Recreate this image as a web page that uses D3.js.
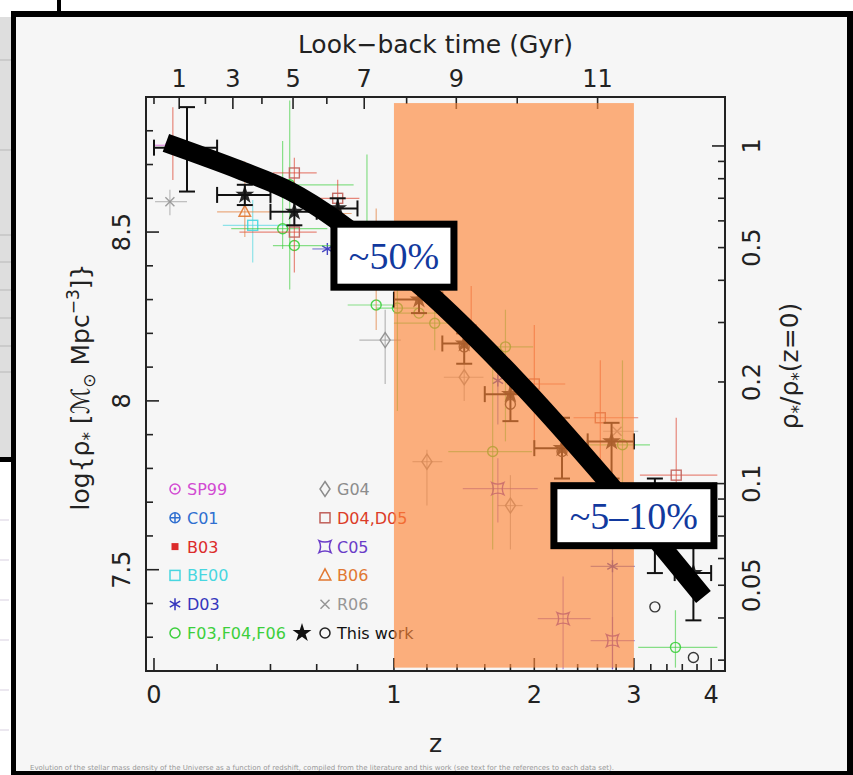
<!DOCTYPE html>
<meta charset="utf-8">
<title>Stellar mass density vs redshift</title>
<style>
body { margin: 0; background: #fff; }
svg { display: block; }
text { font-family: "DejaVu Sans", sans-serif; }
</style>
<body>
<script src="https://d3js.org/d3.v7.min.js"></script>
<script>

// rows are [z, zlo, zhi, logRho, logRhoLo, logRhoHi], null = no bar
var sp99 = [[0.05, 0.00, 0.08, 8.757, null, null]];
var c01  = [[0.15, null, null, 8.725, null, null]];
var b03  = [[0.22, null, null, 8.70, null, null]];
var be00 = [[0.33, 0.22, 0.47, 8.52, 8.41, 8.595]];
var d03  = [[0.65, 0.58, 0.71, 8.45, null, null],
            [1.70, null, null, 8.06, 7.93, 8.12],
            [2.76, 2.53, 3.01, 7.51, 7.205, 7.71]];
var f03  = [[0.45, 0.25, 0.65, 8.51, 8.45, 8.77],
            [0.48, 0.41, 0.78, 8.64, 8.33, 8.89],
            [0.50, 0.41, 0.68, 8.46, null, null],
            [0.85, null, null, 8.45, 8.40, 8.73],
            [0.90, 0.75, 1.02, 8.284, null, null],
            [1.02, 0.90, 1.15, 8.275, 7.97, 8.33],
            [1.15, 1.00, 1.30, 8.26, null, null],
            [1.25, 1.00, 1.40, 8.23, 8.15, 8.30],
            [1.76, 1.51, 1.99, 8.16, 7.88, 8.27],
            [1.66, 1.34, 1.98, 7.85, 7.56, 8.10],
            [2.87, 2.46, 3.19, 7.87, 7.70, 8.12],
            [3.51, 3.05, 4.09, 7.27, 7.21, 7.38]];
var g04  = [[0.95, 0.81, 1.04, 8.18, 8.05, 8.27],
            [1.45, 1.31, 1.59, 8.07, 8.00, 8.13],
            [1.20, 1.11, 1.30, 7.82, 7.69, 7.855],
            [1.80, 1.70, 1.90, 7.69, 7.56, 7.78]];
var d04  = [[0.056, null, null, 8.755, 8.654, 8.87],
            [0.50, 0.41, 0.60, 8.675, 8.63, 8.72],
            [0.50, 0.28, 0.60, 8.50, 8.38, 8.54],
            [0.70, 0.60, 0.81, 8.60, 8.545, 8.655],
            [1.50, null, null, 8.21, 8.18, 8.34],
            [2.00, 1.77, 2.28, 8.05, 7.875, 8.225],
            [2.63, 2.36, 3.05, 7.95, 7.77, 8.12],
            [3.52, 3.07, 4.09, 7.78, 7.59, 7.95]];
var c05  = [[1.70, 1.44, 2.03, 7.74, 7.64, 7.83],
            [2.26, 2.03, 2.53, 7.355, 7.205, 7.48],
            [2.76, 2.53, 3.01, 7.29, 7.205, 7.36]];
var b06  = [[0.30, 0.20, 0.40, 8.56, 8.485, 8.71],
            [0.70, 0.61, 0.77, 8.555, null, null],
            [0.90, null, null, 8.42, 8.21, 8.57]];
var r06  = [[0.047, 0.003, 0.10, 8.59, 8.55, 8.625],
            [2.81, 2.66, 3.05, 7.91, null, null]];
var twStars = [[0.10, 0.0, 0.2, 8.75, 8.62, 8.87],
               [0.30, 0.2, 0.4, 8.61, 8.58, 8.64],
               [0.50, 0.4, 0.6, 8.56, 8.52, 8.60],
               [0.70, 0.6, 0.8, 8.57, 8.54, 8.60],
               [0.90, 0.8, 1.0, 8.45, 8.41, 8.49],
               [1.15, 1.0, 1.3, 8.30, 8.26, 8.34],
               [1.45, 1.3, 1.6, 8.17, 8.11, 8.20],
               [1.80, 1.6, 2.0, 8.02, 7.94, 8.08],
               [2.25, 2.0, 2.5, 7.86, 7.77, 7.95],
               [2.75, 2.5, 3.0, 7.88, 7.77, 7.935],
               [3.25, 3.0, 3.5, 7.62, 7.49, 7.77],
               [3.75, 3.5, 4.0, 7.49, 7.35, 7.58]];
var twCircles = [[1.45, null, null, 8.16, null, null],
                 [1.80, null, null, 7.99, null, null],
                 [2.25, null, null, 7.85, null, null],
                 [3.25, null, null, 7.39, null, null],
                 [3.75, null, null, 7.24, null, null]];

// thick black curve
var fitZ      = [0.035, 0.28, 0.48, 0.70, 1.19, 1.85, 2.69, 3.89];
var fitLogRho = [8.764, 8.684, 8.622, 8.533, 8.328, 8.062, 7.766, 7.419];

// shaded redshift band and the two call-outs
var bandZ = [1, 3], bandLogRho = [7.21, 8.882];
var calloutText = ["~50%", "~5\u201310%"];
var calloutZ = [1, 3], calloutLogRho = [8.43, 7.66];

// ticks
var zTicks = [0, 1, 2, 3, 4];
var gyrTicks = [1, 3, 5, 7, 9, 11];
var logTicks = [7.5, 8, 8.5];
var ratioTicks = [1, 0.5, 0.2, 0.1, 0.05];
var LOG_RHO0 = 8.755;   // log rho at z=0 used for right axis

var series = [
  {label: "SP99",        data: sp99, type: "circdot",  color: "#d24bd2", col: 0, row: 0},
  {label: "C01",         data: c01,  type: "circplus", color: "#2f6fd0", col: 0, row: 1},
  {label: "B03",         data: b03,  type: "fsquare",  color: "#dc2b2b", col: 0, row: 2},
  {label: "BE00",        data: be00, type: "square",   color: "#48d6e0", col: 0, row: 3},
  {label: "D03",         data: d03,  type: "asterisk", color: "#3535bd", col: 0, row: 4},
  {label: "F03,F04,F06", data: f03,  type: "circle",   color: "#3ccf3c", col: 0, row: 5},
  {label: "G04",         data: g04,  type: "diamond",  color: "#8c8c8c", col: 1, row: 0},
  {label: "D04,D05",     data: d04,  type: "square",   color: "#dc3c28", mcolor: "#c0605a", col: 1, row: 1},
  {label: "C05",         data: c05,  type: "concave",  color: "#6a3cc8", col: 1, row: 2},
  {label: "B06",         data: b06,  type: "triangle", color: "#e17832", col: 1, row: 3},
  {label: "R06",         data: r06,  type: "times",    color: "#969696", col: 1, row: 4}
];

var W = 853, H = 775;
var svg = d3.select("body").append("svg").attr("width", W).attr("height", H);

// scales: x is log(1+z), left y is log rho, right y is rho/rho(0)
var x = d3.scaleLog().domain([0.9772, 5.204]).range([146, 725]);
function X(z) { return x(1 + z); }
var y = d3.scaleLinear().domain([7.2, 8.9]).range([671, 97]);
var yR = d3.scaleLog()
    .domain([Math.pow(10, 7.2 - LOG_RHO0), Math.pow(10, 8.9 - LOG_RHO0)])
    .range([671, 97]);

// look-back time (Gyr), H0=70, Om=0.3, OL=0.7
function lookback(z) {
  var n = 200, h = z / n, s = 0;
  for (var i = 0; i <= n; i++) {
    var zz = i * h, f = 1 / ((1 + zz) * Math.sqrt(0.3 * Math.pow(1 + zz, 3) + 0.7));
    s += (i === 0 || i === n ? 1 : (i % 2 ? 4 : 2)) * f;
  }
  return 977.8 / 70 * s * h / 3;
}
function zAt(t) {
  var lo = 0, hi = 20;
  for (var k = 0; k < 60; k++) {
    var mid = (lo + hi) / 2;
    if (lookback(mid) < t) lo = mid; else hi = mid;
  }
  return (lo + hi) / 2;
}

// ---- background: slide and bits of the slides behind it
svg.append("rect").attr("width", W).attr("height", H).attr("fill", "#fff");
svg.append("rect").attr("x", 0).attr("y", 17).attr("width", 11).attr("height", 440).attr("fill", "#dedede");
[60, 150, 235, 262, 290, 318, 346, 372].forEach(function(yy) {
  svg.append("line").attr("x1", 0).attr("x2", 11).attr("y1", yy).attr("y2", yy)
     .attr("stroke", "#b8b8b8").attr("stroke-width", 1);
});
[520, 560, 600, 640, 690, 730].forEach(function(yy) {
  svg.append("line").attr("x1", 0).attr("x2", 9).attr("y1", yy).attr("y2", yy)
     .attr("stroke", "#d8d0e0").attr("stroke-width", 1);
});
svg.append("rect").attr("x", 16).attr("y", 17).attr("width", 831).attr("height", 754).attr("fill", "#f6f6f6");
svg.append("text").attr("x", 30).attr("y", 770).attr("font-size", 7).attr("fill", "#999")
   .text("Evolution of the stellar mass density of the Universe as a function of redshift, compiled from the literature and this work (see text for the references to each data set).");
svg.append("rect").attr("x", 11).attr("y", 11).attr("width", 842).attr("height", 6).attr("fill", "#000");
svg.append("rect").attr("x", 11).attr("y", 11).attr("width", 5).attr("height", 764).attr("fill", "#000");
svg.append("rect").attr("x", 847).attr("y", 11).attr("width", 6).attr("height", 764).attr("fill", "#000");
svg.append("rect").attr("x", 11).attr("y", 771).attr("width", 842).attr("height", 4).attr("fill", "#000");
svg.append("rect").attr("x", 57).attr("y", 0).attr("width", 4).attr("height", 12).attr("fill", "#000");
svg.append("rect").attr("x", 0).attr("y", 457).attr("width", 16).attr("height", 5).attr("fill", "#000");

// ---- frame and ticks
var axisCol = "#222";
var frame = svg.append("g");
frame.append("rect").attr("x", 146).attr("y", 97).attr("width", 579).attr("height", 574)
    .attr("fill", "none").attr("stroke", axisCol).attr("stroke-width", 2);

// bottom: z
var zMinor = d3.range(0, 4.01, 0.2).map(function(d) { return +d.toFixed(1); });
frame.selectAll(".zt").data(zMinor).enter().append("line")
    .attr("x1", function(d) { return X(d); }).attr("x2", function(d) { return X(d); })
    .attr("y1", 671).attr("y2", function(d) { return Number.isInteger(d) ? 658 : 664; })
    .attr("stroke", axisCol).attr("stroke-width", 1.6);
frame.selectAll(".zl").data(zTicks).enter().append("text")
    .attr("x", function(d) { return X(d); }).attr("y", 703)
    .attr("text-anchor", "middle").attr("font-size", 24).attr("fill", axisCol)
    .text(function(d) { return d; });
svg.append("text").attr("x", 435.5).attr("y", 752).attr("text-anchor", "middle")
    .attr("font-size", 25).attr("fill", axisCol).text("z");

// top: look-back time
var gyrAll = d3.range(0, 12);
frame.selectAll(".tt").data(gyrAll).enter().append("line")
    .attr("x1", function(d) { return X(zAt(d)); }).attr("x2", function(d) { return X(zAt(d)); })
    .attr("y1", 97).attr("y2", function(d) { return d % 2 ? 109 : 104; })
    .attr("stroke", axisCol).attr("stroke-width", 1.6);
frame.selectAll(".tl").data(gyrTicks).enter().append("text")
    .attr("x", function(d) { return X(zAt(d)); }).attr("y", 87)
    .attr("text-anchor", "middle").attr("font-size", 24).attr("fill", axisCol)
    .text(function(d) { return d; });
svg.append("text").attr("x", 435.5).attr("y", 53).attr("text-anchor", "middle")
    .attr("font-size", 25).attr("fill", axisCol).text("Look\u2212back time (Gyr)");

// left: log rho
var logMinor = d3.range(7.3, 8.85, 0.1).map(function(d) { return +d.toFixed(1); });
frame.selectAll(".lt").data(logMinor).enter().append("line")
    .attr("x1", 146).attr("x2", function(d) { return (Math.round(d * 10) % 5 === 0) ? 159 : 153; })
    .attr("y1", function(d) { return y(d); }).attr("y2", function(d) { return y(d); })
    .attr("stroke", axisCol).attr("stroke-width", 1.6);
frame.selectAll(".ll").data(logTicks).enter().append("text")
    .attr("transform", function(d) { return "translate(130," + y(d) + ") rotate(-90)"; })
    .attr("text-anchor", "middle").attr("font-size", 24).attr("fill", axisCol)
    .text(function(d) { return d; });
var yl = svg.append("text").attr("transform", "translate(89,387) rotate(-90)")
    .attr("text-anchor", "middle").attr("font-size", 25).attr("fill", axisCol);
yl.append("tspan").text("log{\u03c1");
yl.append("tspan").attr("dy", 6).attr("font-size", 17).text("*");
yl.append("tspan").attr("dy", -6).text(" [\u2133");
yl.append("tspan").attr("dy", 6).attr("font-size", 17).text("\u2299");
yl.append("tspan").attr("dy", -6).text(" Mpc");
yl.append("tspan").attr("dy", -10).attr("font-size", 17).text("\u22123");
yl.append("tspan").attr("dy", 10).text("]}");

// right: rho / rho(z=0)
var ratioMinor = d3.range(3, 10).map(function(d) { return d / 100; })
    .concat(d3.range(1, 10).map(function(d) { return d / 10; })).concat([1]);
frame.selectAll(".rt").data(ratioMinor).enter().append("line")
    .attr("x1", 725)
    .attr("x2", function(d) { return (d === 1 || d === 0.1) ? 712 : 718; })
    .attr("y1", function(d) { return yR(d); }).attr("y2", function(d) { return yR(d); })
    .attr("stroke", axisCol).attr("stroke-width", 1.6);
frame.selectAll(".rl").data(ratioTicks).enter().append("text")
    .attr("transform", function(d) { return "translate(760," + yR(d) + ") rotate(-90)"; })
    .attr("text-anchor", "middle").attr("font-size", 24).attr("fill", axisCol)
    .text(function(d) { return d; });
var yr = svg.append("text").attr("transform", "translate(798,366) rotate(-90)")
    .attr("text-anchor", "middle").attr("font-size", 25).attr("fill", axisCol);
yr.append("tspan").text("\u03c1");
yr.append("tspan").attr("dy", 6).attr("font-size", 17).text("*");
yr.append("tspan").attr("dy", -6).text("/\u03c1");
yr.append("tspan").attr("dy", 6).attr("font-size", 17).text("*");
yr.append("tspan").attr("dy", -6).text("(z=0)");

// ---- markers
function marker(g, type, color, sw) {
  sw = sw || 1.4;
  if (type === "circle" || type === "circdot" || type === "circplus") {
    g.append("circle").attr("r", 5).attr("fill", "none").attr("stroke", color).attr("stroke-width", sw);
    if (type === "circdot") g.append("circle").attr("r", 1.4).attr("fill", color);
    if (type === "circplus") g.append("path").attr("d", "M-5,0H5M0,-5V5").attr("stroke", color).attr("stroke-width", sw);
  } else if (type === "fsquare") {
    g.append("rect").attr("x", -3.5).attr("y", -3.5).attr("width", 7).attr("height", 7).attr("fill", color);
  } else if (type === "square") {
    g.append("rect").attr("x", -5).attr("y", -5).attr("width", 10).attr("height", 10)
      .attr("fill", "none").attr("stroke", color).attr("stroke-width", sw);
  } else if (type === "asterisk") {
    g.append("path").attr("d", "M0,-6V6M-5.2,-3L5.2,3M-5.2,3L5.2,-3").attr("stroke", color).attr("stroke-width", sw);
  } else if (type === "diamond") {
    g.append("path").attr("d", "M0,-7.5L5,0L0,7.5L-5,0Z").attr("fill", "none").attr("stroke", color).attr("stroke-width", sw);
  } else if (type === "concave") {
    g.append("path").attr("d", "M-6,-6Q0,-3 6,-6Q3,0 6,6Q0,3 -6,6Q-3,0 -6,-6Z")
      .attr("fill", "none").attr("stroke", color).attr("stroke-width", sw);
  } else if (type === "triangle") {
    g.append("path").attr("d", "M0,-6.5L5.8,4.5L-5.8,4.5Z").attr("fill", "none").attr("stroke", color).attr("stroke-width", sw);
  } else if (type === "times") {
    g.append("path").attr("d", "M-4.5,-4.5L4.5,4.5M-4.5,4.5L4.5,-4.5").attr("stroke", color).attr("stroke-width", sw);
  } else if (type === "star") {
    g.append("path").attr("d", d3.symbol().type(d3.symbolStar).size(110)()).attr("fill", color);
  }
}

// ---- data: error bars then markers
var dataG = svg.append("g");
function drawSeries(rows, type, color, mcolor, opts) {
  var g = dataG.append("g");
  var w = opts.width || 1.2, op = opts.opacity || 0.6, cap = opts.cap || 0;
  var hrows = rows.filter(function(d) { return d[1] != null; });
  var vrows = rows.filter(function(d) { return d[4] != null; });
  g.selectAll(".h").data(hrows).enter().append("line")
      .attr("x1", function(d) { return X(d[1]); }).attr("x2", function(d) { return X(d[2]); })
      .attr("y1", function(d) { return y(d[3]); }).attr("y2", function(d) { return y(d[3]); })
      .attr("stroke", color).attr("stroke-width", w).attr("stroke-opacity", op);
  g.selectAll(".v").data(vrows).enter().append("line")
      .attr("x1", function(d) { return X(d[0]); }).attr("x2", function(d) { return X(d[0]); })
      .attr("y1", function(d) { return y(d[4]); }).attr("y2", function(d) { return y(d[5]); })
      .attr("stroke", color).attr("stroke-width", w).attr("stroke-opacity", op);
  if (cap) {
    vrows.forEach(function(d) {
      [d[4], d[5]].forEach(function(v) {
        g.append("line").attr("x1", X(d[0]) - cap).attr("x2", X(d[0]) + cap)
          .attr("y1", y(v)).attr("y2", y(v)).attr("stroke", color).attr("stroke-width", w);
      });
    });
    hrows.forEach(function(d) {
      [d[1], d[2]].forEach(function(zz) {
        g.append("line").attr("x1", X(zz)).attr("x2", X(zz))
          .attr("y1", y(d[3]) - cap).attr("y2", y(d[3]) + cap).attr("stroke", color).attr("stroke-width", w);
      });
    });
  }
  g.selectAll(".m").data(rows).enter().append("g")
      .attr("transform", function(d) { return "translate(" + X(d[0]) + "," + y(d[3]) + ")"; })
      .attr("opacity", 0.9)
      .each(function() { marker(d3.select(this), type, mcolor); });
}
series.forEach(function(s) {
  drawSeries(s.data, s.type, s.color, s.mcolor || s.color, {});
});
drawSeries(twStars, "star", "#111", "#111", {width: 2, opacity: 1, cap: 8});
drawSeries(twCircles, "circle", "#111", "#222", {});

// ---- legend
var legend = svg.append("g");
var legCol = [175, 325], legRow0 = 489, legDy = 28.8;
series.forEach(function(s) {
  var cy = legRow0 + s.row * legDy;
  var m = legend.append("g").attr("transform", "translate(" + legCol[s.col] + "," + cy + ")");
  marker(m, s.type, s.mcolor || s.color, 1.5);
  legend.append("text").attr("x", legCol[s.col] + 12).attr("y", cy + 6)
      .attr("font-size", 16).attr("fill", s.color).text(s.label);
});
var twy = legRow0 + 5 * legDy;
marker(legend.append("g").attr("transform", "translate(302," + twy + ")"), "star", "#111");
marker(legend.append("g").attr("transform", "translate(" + legCol[1] + "," + twy + ")"), "circle", "#222", 1.5);
legend.append("text").attr("x", legCol[1] + 12).attr("y", twy + 6)
    .attr("font-size", 16).attr("fill", "#111").text("This work");

// ---- orange band over the data
svg.append("rect")
    .attr("x", X(bandZ[0])).attr("width", X(bandZ[1]) - X(bandZ[0]))
    .attr("y", y(bandLogRho[1])).attr("height", y(bandLogRho[0]) - y(bandLogRho[1]))
    .attr("fill", "rgb(253,135,58)").attr("fill-opacity", 0.65);

// ---- thick curve
var fitPts = fitZ.map(function(z, i) { return [X(z), y(fitLogRho[i])]; });
svg.append("path")
    .attr("d", d3.line().curve(d3.curveCatmullRom)(fitPts))
    .attr("fill", "none").attr("stroke", "#000").attr("stroke-width", 19)
    .attr("stroke-linecap", "butt");

// ---- call-out boxes
var boxW = [127, 167], boxH = [70, 67];
calloutText.forEach(function(t, i) {
  var cx = X(calloutZ[i]), cy = y(calloutLogRho[i]);
  svg.append("rect")
      .attr("x", cx - boxW[i] / 2 + 3.5).attr("y", cy - boxH[i] / 2 + 3.5)
      .attr("width", boxW[i] - 7).attr("height", boxH[i] - 7)
      .attr("fill", "#fff").attr("stroke", "#000").attr("stroke-width", 7);
  svg.append("text").attr("x", cx).attr("y", cy + 13)
      .attr("text-anchor", "middle")
      .style("font-family", "'Liberation Serif', 'Times New Roman', serif")
      .attr("font-size", 38).attr("fill", "#12399e").text(t);
});

</script>
</body>
